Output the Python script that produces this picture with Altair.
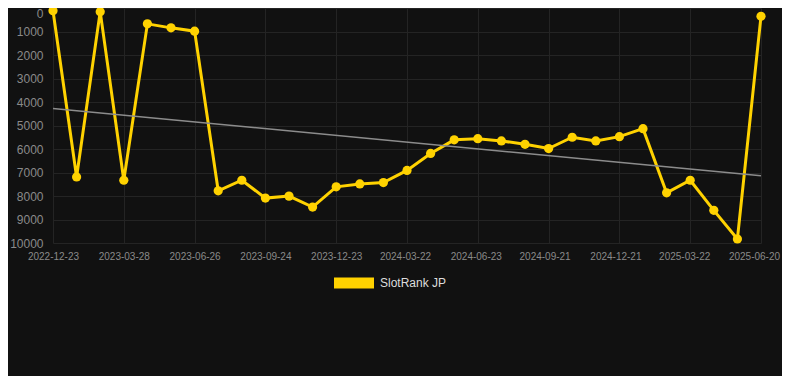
import altair as alt
import pandas as pd

dates = [
    "2022-12-23", "2023-01-23", "2023-02-24", "2023-03-28", "2023-04-27", "2023-05-27",
    "2023-06-26", "2023-07-26", "2023-08-25", "2023-09-24", "2023-10-24", "2023-11-23",
    "2023-12-23", "2024-01-22", "2024-02-21", "2024-03-22", "2024-04-22", "2024-05-23",
    "2024-06-23", "2024-07-23", "2024-08-22", "2024-09-21", "2024-10-21", "2024-11-20",
    "2024-12-21", "2025-01-20", "2025-02-19", "2025-03-22", "2025-04-21", "2025-05-21",
    "2025-06-20",
]
ranks = [
    115, 7190, 155, 7330, 675, 845,
    985, 7780, 7330, 8090, 8005, 8470,
    7610, 7485, 7430, 6910, 6190, 5610,
    5560, 5655, 5800, 5980, 5500, 5655,
    5475, 5135, 7865, 7330, 8610, 9830,
    355,
]
series_name = "SlotRank JP"
y_ticks = [0, 1000, 2000, 3000, 4000, 5000, 6000, 7000, 8000, 9000, 10000]
label_idx = list(range(0, len(dates), 3))

df = pd.DataFrame({
    "idx": list(range(len(dates))),
    "date": dates,
    "rank": ranks,
    "series": [series_name] * len(dates),
})

label_array = "[" + ",".join("'" + d + "'" for d in dates) + "]"

GOLD = "#FFD200"
GRID = "#242424"
LABEL = "#8a8a8a"

x_enc = alt.X(
    "idx:Q",
    scale=alt.Scale(domain=[0, len(dates) - 1], nice=False, zero=False),
    axis=alt.Axis(
        values=label_idx,
        labelExpr=label_array + "[datum.value]",
        labelOverlap=False,
        labelFlush=False,
        labelOffset={
            "condition": [
                {"test": "datum.value >= 30", "value": -7},
                {"test": "datum.value >= 27", "value": -6},
                {"test": "datum.value >= 21", "value": -4},
                {"test": "datum.value >= 15", "value": -2},
            ],
            "value": 0,
        },
        title=None,
        domain=False,
        ticks=False,
        grid=True,
        gridColor=GRID,
        labelColor=LABEL,
        labelFontSize=10,
        labelPadding=8,
        labelFont="Liberation Sans",
    ),
)
y_enc = alt.Y(
    "rank:Q",
    scale=alt.Scale(domain=[0, 10000], reverse=True, nice=False),
    axis=alt.Axis(
        values=y_ticks,
        format="d",
        labelOverlap=False,
        title=None,
        domain=False,
        ticks=False,
        grid=True,
        gridColor=GRID,
        labelColor=LABEL,
        labelFontSize=12,
        labelPadding=10,
        labelFont="Liberation Sans",
        labelBaseline={"condition": {"test": "datum.value == 0", "value": "top"}, "value": "middle"},
    ),
)

base = alt.Chart(df).encode(x=x_enc, y=y_enc)

trend = base.transform_regression("idx", "rank").mark_line(
    color="#8c8c8c", strokeWidth=1.5
)

line = base.mark_line(strokeWidth=3, point=alt.OverlayMarkDef(filled=True, size=85, color=GOLD)).encode(
    color=alt.Color(
        "series:N",
        scale=alt.Scale(range=[GOLD]),
        legend=alt.Legend(
            title=None,
            orient="none",
            legendX=281,
            legendY=255,
            symbolType="M-1,-0.28L1,-0.28L1,0.28L-1,0.28Z",
            symbolSize=1600,
            symbolStrokeWidth=0,
            labelColor="#dddddd",
            labelFontSize=12,
            labelFont="Liberation Sans",
            labelOffset=6,
        ),
    ),
)

chart = alt.layer(line, trend).properties(
    width=708,
    height=235,
    background="#111111",
    padding={"left": 45, "top": 0, "right": 21, "bottom": 133},
    autosize=alt.AutoSizeParams(type="none"),
).configure_view(stroke=None)

chart.save("out.html", embed_options={"renderer": "svg", "actions": False})
